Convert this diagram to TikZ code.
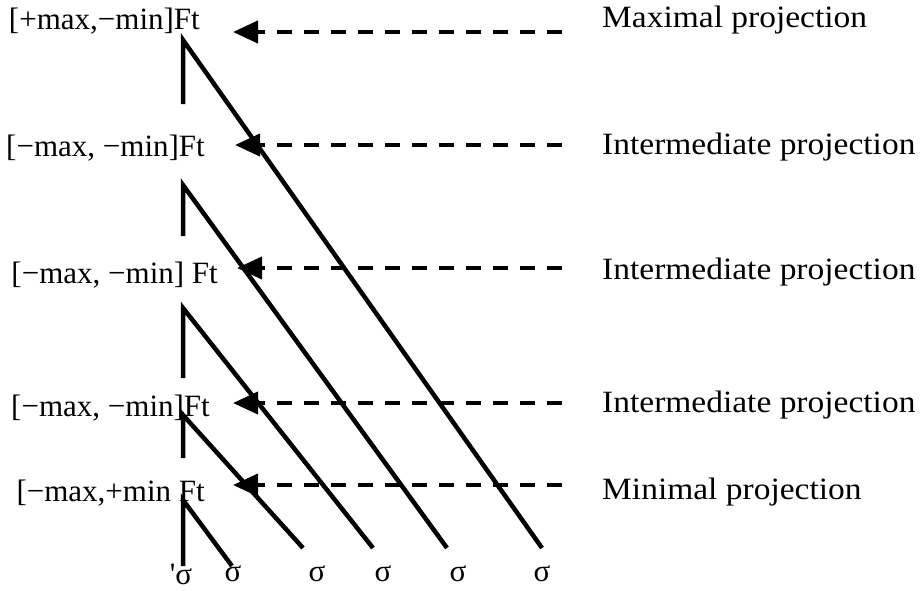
\documentclass[tikz,border=0pt]{standalone}
\usepackage{fontspec}
\setmainfont{Liberation Serif}
\newfontfamily\chuphai[FakeStretch=1.08]{Liberation Serif}
\usetikzlibrary{arrows.meta}

\begin{document}
\begin{tikzpicture}[x=1pt,y=-1pt,font=\fontsize{31}{36}\selectfont, line join=miter, >={Triangle[length=25pt,width=22pt]},
	nhan/.style={inner sep=0pt},
	tang/.style={inner sep=0pt,anchor=west,font=\chuphai\fontsize{31}{36}\selectfont},
	nhanh/.style={line width=4.5pt},
	chieu/.style={line width=4pt,dash pattern=on 15pt off 12pt,->}] %Cây chiếu của bộ âm tiết
	\useasboundingbox (0,0) rectangle (924,590);
	% nhãn bên trái
	\node[nhan,anchor=east] (ft1) at (200,21) {[+max,−min]Ft};
	\node[nhan,anchor=east] (ft2) at (205,148) {[−max, −min]Ft};
	\node[nhan,anchor=east] (ft3) at (218,275) {[−max, −min] Ft};
	\node[nhan,anchor=east] (ft4) at (210,408) {[−max, −min]Ft};
	\node[nhan,anchor=east] (ft5) at (205,493) {[−max,+min Ft};
	% nhãn bên phải
	\node[tang] (p1) at (602,20) {Maximal projection};
	\node[tang] (p2) at (602,147) {Intermediate projection};
	\node[tang] (p3) at (602,272) {Intermediate projection};
	\node[tang] (p4) at (602,405) {Intermediate projection};
	\node[tang] (p5) at (602,492) {Minimal projection};
	% các âm tiết
	\node[nhan] (s1) at (181,574) {\textquotesingle σ};
	\node[nhan] (s2) at (233,574) {σ};
	\node[nhan] (s3) at (317,574) {σ};
	\node[nhan] (s4) at (383,574) {σ};
	\node[nhan] (s5) at (458,574) {σ};
	\node[nhan] (s6) at (542,574) {σ};
	% đỉnh, chân và đầu mút các nhánh
	\coordinate (t1) at (183,40);  \coordinate (v1) at (183,104);
	\coordinate (t2) at (183,185); \coordinate (v2) at (183,236);
	\coordinate (t3) at (183,308); \coordinate (v3) at (183,378);
	\coordinate (t4) at (183,415); \coordinate (v4) at (183,458);
	\coordinate (t5) at (183,500); \coordinate (v5) at (183,566);
	\coordinate (e6) at (542,548);
	\coordinate (e5) at (447,548);
	\coordinate (e4) at (373,548);
	\coordinate (e3) at (303,548);
	\coordinate (e2) at (232,566);
	\draw[nhanh] (v1)--(t1)--(e6);
	\draw[nhanh] (v2)--(t2)--(e5);
	\draw[nhanh] (v3)--(t3)--(e4);
	\draw[nhanh] (v4)--(t4)--(e3);
	\draw[nhanh] (v5)--(t5)--(e2);
	% mũi tên nét đứt
	\coordinate (a1) at (233,32);  \coordinate (d1) at (562,32);
	\coordinate (a2) at (235,145); \coordinate (d2) at (562,145);
	\coordinate (a3) at (237,268); \coordinate (d3) at (562,268);
	\coordinate (a4) at (233,403); \coordinate (d4) at (562,403);
	\coordinate (a5) at (233,485); \coordinate (d5) at (562,485);
	\draw[chieu] (d1)--(a1);
	\draw[chieu] (d2)--(a2);
	\draw[chieu] (d3)--(a3);
	\draw[chieu] (d4)--(a4);
	\draw[chieu] (d5)--(a5);
\end{tikzpicture}
\end{document}
